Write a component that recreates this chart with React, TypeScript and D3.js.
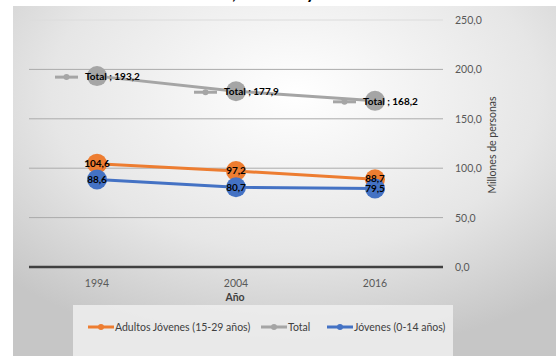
import React from "react";
import * as d3 from "d3";

const years = ["1994", "2004", "2016"];
const totalValues = [193.2, 177.9, 168.2];
const adultosValues = [104.6, 97.2, 88.7];
const jovenesValues = [88.6, 80.7, 79.5];
const yTicks = [0, 50, 100, 150, 200, 250];
const seriesNames = ["Adultos Jóvenes (15-29 años)", "Total", "Jóvenes (0-14 años)"];
const titleText = "Total, Adultos y Jóvenes";

const W = 556, H = 356;
const FONT = "Lato, 'Open Sans', sans-serif";

export default function App() {
  const x = d3.scalePoint<string>().domain(years).range([97, 375]);
  const y = d3.scaleLinear().domain([0, 250]).range([267, 20]);
  const fmt = (v: number) => v.toFixed(1).replace(".", ",");
  const line = d3.line<number>().x((_, i) => x(years[i])!).y(v => y(v));

  const series = [
    { name: seriesNames[0], values: adultosValues, color: "#ed7d31" },
    { name: seriesNames[1], values: totalValues, color: "#a5a5a5" },
    { name: seriesNames[2], values: jovenesValues, color: "#4472c4" },
  ];
  const drawOrder = [series[1], series[0], series[2]];

  const legendX = [88, 261, 327];

  return (
    <svg width={W} height={H} style={{ position: "absolute", left: 0, top: 0 }} fontFamily={FONT}>
      <defs>
        <radialGradient id="bg" cx="0.52" cy="0.25" r="0.75">
          <stop offset="0" stopColor="#ffffff" />
          <stop offset="0.6" stopColor="#e6e6e6" />
          <stop offset="1" stopColor="#c6c6c6" />
        </radialGradient>
      </defs>
      <rect x={0} y={0} width={W} height={H} fill="#ffffff" />
      <text x={193} y={-1} fontSize={18} fontWeight="bold" fill="#000">{titleText}</text>
      <rect x={13} y={6} width={W - 13} height={H - 6} fill="url(#bg)" />
      {/* legend box */}
      <rect x={73} y={305} width={380} height={51} fill="#eeeeee" opacity={0.85} />

      {yTicks.map(t => (
        <g key={t}>
          {t > 0 && (
            <line x1={29} x2={443} y1={y(t)} y2={y(t)} stroke={t === 250 ? "#dcdcdc" : "#ababab"} strokeWidth={1} />
          )}
          <text x={455} y={y(t) + 4} fontSize={10.5} fill="#595959">{fmt(t)}</text>
        </g>
      ))}
      <line x1={29} x2={443} y1={y(0)} y2={y(0)} stroke="#404040" strokeWidth={2.5} />
      <text transform={`translate(496,145) rotate(-90)`} textAnchor="middle" fontSize={10.5} fill="#404040">Millones de personas</text>

      {years.map(yr => (
        <text key={yr} x={x(yr)} y={287} textAnchor="middle" fontSize={10.5} fill="#595959">{yr}</text>
      ))}
      <text x={235} y={301} textAnchor="middle" fontSize={10.5} fontWeight="bold" fill="#404040">Año</text>

      {drawOrder.map(s => (
        <g key={s.name}>
          <path d={line(s.values)!} fill="none" stroke={s.color} strokeWidth={3} />
          {s.values.map((v, i) => (
            <circle key={i} cx={x(years[i])} cy={y(v)} r={10} fill={s.color} />
          ))}
        </g>
      ))}

      {/* data labels */}
      {totalValues.map((v, i) => {
        const cx = x(years[i])!;
        const cy = y(v);
        return (
          <g key={"t" + i}>
            <line x1={cx - 42} x2={cx - 19} y1={cy + 1} y2={cy + 1} stroke="#a5a5a5" strokeWidth={3} />
            <circle cx={cx - 30.5} cy={cy + 1} r={3} fill="#a5a5a5" />
            <text x={cx - 12} y={cy + 4} fontSize={10} fontWeight="bold" fill="#000">{`Total ; ${fmt(v)}`}</text>
          </g>
        );
      })}
      {adultosValues.map((v, i) => (
        <text key={"a" + i} x={x(years[i])} y={y(v) + 3} textAnchor="middle" fontSize={10} fontWeight="bold" fill="#000">{fmt(v)}</text>
      ))}
      {jovenesValues.map((v, i) => (
        <text key={"j" + i} x={x(years[i])} y={y(v) + 4} textAnchor="middle" fontSize={10} fontWeight="bold" fill="#000">{fmt(v)}</text>
      ))}

      {/* legend */}
      {series.map((s, i) => (
        <g key={s.name}>
          <line x1={legendX[i]} x2={legendX[i] + 26} y1={327} y2={327} stroke={s.color} strokeWidth={3} />
          <circle cx={legendX[i] + 13} cy={327} r={3} fill={s.color} />
          <text x={legendX[i] + 27} y={331} fontSize={10.5} fill="#404040">{s.name}</text>
        </g>
      ))}
    </svg>
  );
}
